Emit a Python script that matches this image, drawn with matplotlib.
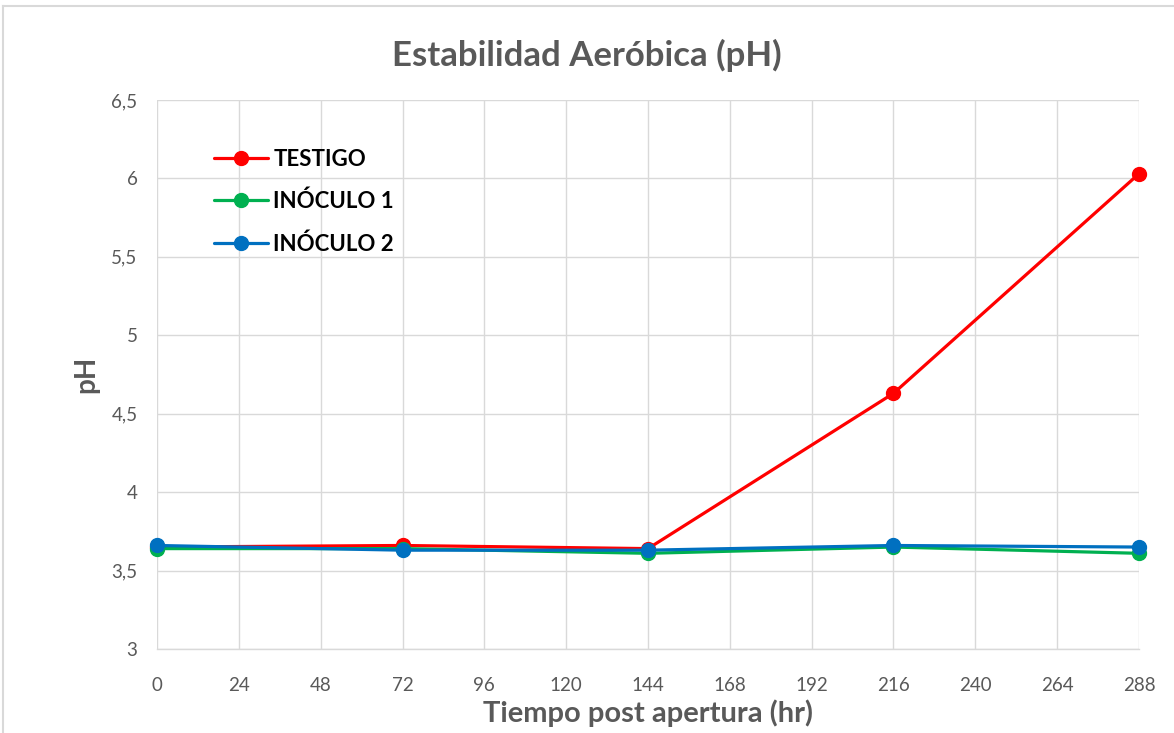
import matplotlib
matplotlib.use("Agg")
import matplotlib.pyplot as plt
from matplotlib.ticker import FuncFormatter
from matplotlib.lines import Line2D

# ----------------------------------------------------
# Data
# ----------------------------------------------------

horas = [0, 72, 144, 216, 288]

testigo = [3.65, 3.66, 3.64, 4.63, 6.03]
inoculo_1 = [3.64, 3.64, 3.61, 3.65, 3.61]
inoculo_2 = [3.66, 3.63, 3.63, 3.66, 3.65]

series = [
    ("TESTIGO", testigo, "#ff0000"),
    ("INÓCULO 1", inoculo_1, "#00b050"),
    ("INÓCULO 2", inoculo_2, "#0070c0"),
]

x_ticks = list(range(0, 289, 24))
y_ticks = [3, 3.5, 4, 4.5, 5, 5.5, 6, 6.5]

# ----------------------------------------------------
# Figure
# ----------------------------------------------------

plt.rcParams["font.family"] = ["Lato", "DejaVu Sans"]

gray = "#595959"

fig = plt.figure(figsize=(11.74, 7.33), dpi=100)
ax = fig.add_axes([157 / 1174, 1 - 649 / 733, (1139 - 157) / 1174, (649 - 100) / 733])

for name, values, color in series:
    ax.plot(
        horas,
        values,
        color=color,
        linewidth=2.3,
        marker="o",
        markersize=10,
        label=name,
        solid_capstyle="round",
        clip_on=False,
        zorder=3,
    )

ax.set_xlim(0, 288)
ax.set_ylim(3, 6.5)
ax.set_xticks(x_ticks)
ax.set_yticks(y_ticks)

ax.yaxis.set_major_formatter(
    FuncFormatter(lambda v, p: f"{v:g}".replace(".", ","))
)

ax.grid(True, color="#d9d9d9", linewidth=1)
ax.set_axisbelow(True)

for side in ["top", "right", "left"]:
    ax.spines[side].set_visible(False)
ax.spines["bottom"].set_color("#d9d9d9")
ax.spines["bottom"].set_linewidth(1)

ax.tick_params(axis="both", length=0, labelsize=13.5, labelcolor=gray)
ax.tick_params(axis="x", pad=20)
ax.tick_params(axis="y", pad=14)

ax.set_xlabel("Tiempo post apertura (hr)", fontsize=21, fontweight="bold", color=gray, labelpad=4)
ax.set_ylabel("pH", fontsize=20, fontweight="bold", color=gray, labelpad=9)

fig.text(0.5, 1 - 55 / 733, "Estabilidad Aeróbica (pH)", ha="center", va="center",
         fontsize=25, fontweight="bold", color=gray)

legend = ax.legend(
    loc="upper left",
    bbox_to_anchor=(0.038, 0.948),
    frameon=False,
    handlelength=2.4,
    handletextpad=0.25,
    labelspacing=0.95,
    prop={"size": 16, "weight": "bold"},
)

# chart frame
fig.add_artist(Line2D([3 / 1174, 1], [1 - 6 / 733, 1 - 6 / 733], color="#d9d9d9", linewidth=1.5))
fig.add_artist(Line2D([3 / 1174, 3 / 1174], [0, 1 - 6 / 733], color="#d9d9d9", linewidth=1.5))

fig.savefig("out.png", dpi=100)
